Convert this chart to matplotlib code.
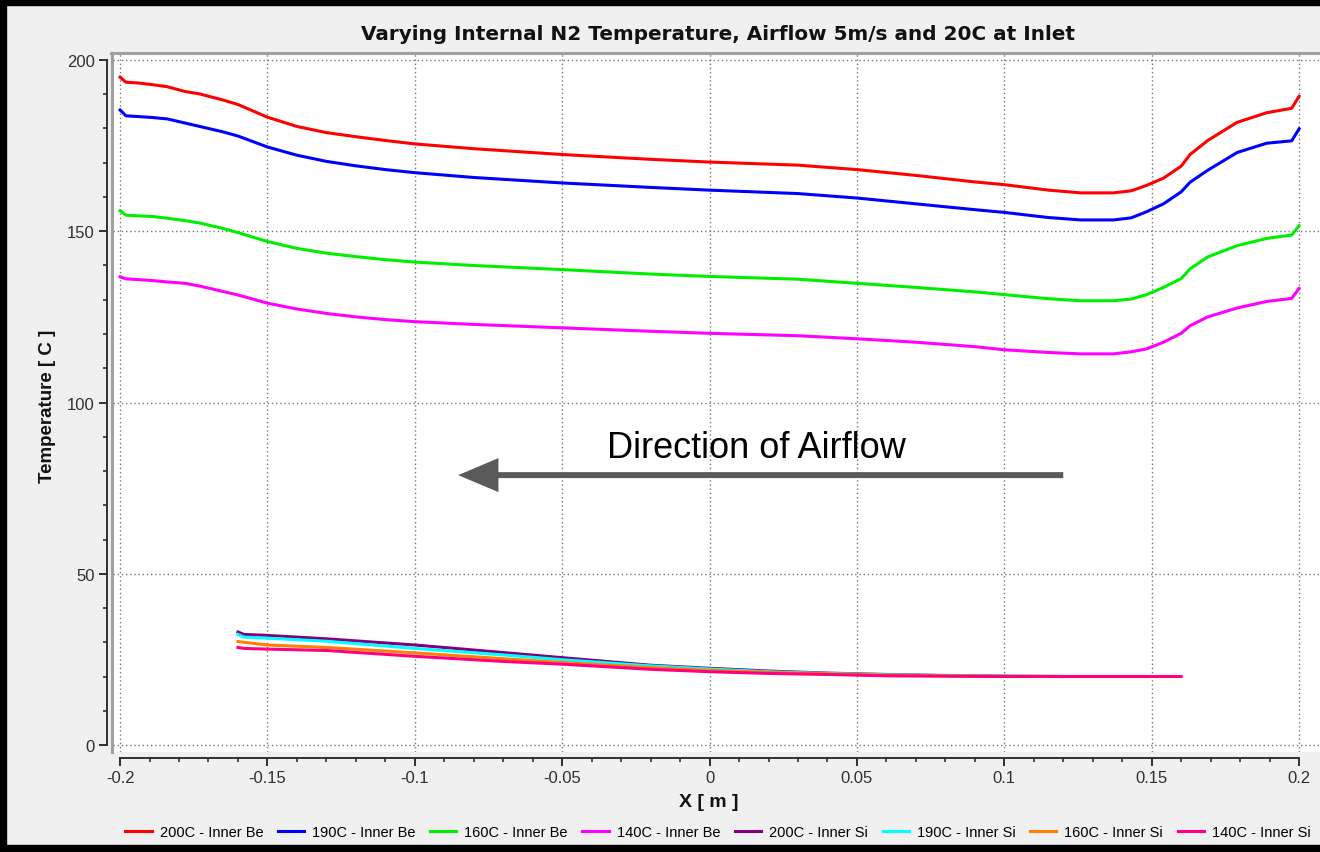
import matplotlib
matplotlib.use("Agg")
import matplotlib.pyplot as plt
from matplotlib.lines import Line2D
from matplotlib.patches import Rectangle
from matplotlib.ticker import MultipleLocator

plt.rcParams['font.family'] = ['Liberation Sans', 'DejaVu Sans']

# ---------------- data ----------------
title = "Varying Internal N2 Temperature, Airflow 5m/s and 20C at Inlet"
xlabel = "X [ m ]"
ylabel = "Temperature [ C ]"
annotation = "Direction of Airflow"

x_be = [-0.2, -0.198, -0.194, -0.189, -0.184, -0.178, -0.173, -0.165, -0.16, -0.15,
        -0.14, -0.13, -0.12, -0.11, -0.10, -0.08, -0.05, -0.02, 0.0, 0.03,
        0.05, 0.07, 0.09, 0.1, 0.115, 0.126, 0.137, 0.143, 0.148, 0.154,
        0.16, 0.163, 0.169, 0.179, 0.189, 0.1975, 0.2]
be_200 = [195.0, 193.5, 193.3, 192.8, 192.2, 190.8, 190.1, 188.3, 187.0, 183.3,
          180.6, 178.8, 177.6, 176.5, 175.5, 174.1, 172.4, 171.0, 170.2, 169.3,
          168.0, 166.3, 164.4, 163.6, 162.0, 161.2, 161.2, 161.8, 163.3, 165.5,
          169.0, 172.4, 176.5, 181.8, 184.6, 185.9, 189.4]
be_190 = [185.4, 183.7, 183.5, 183.2, 182.8, 181.6, 180.6, 179.0, 177.8, 174.6,
          172.2, 170.4, 169.1, 168.0, 167.1, 165.7, 164.1, 162.8, 162.0, 161.0,
          159.7, 158.0, 156.3, 155.5, 154.0, 153.3, 153.3, 153.9, 155.6, 158.0,
          161.5, 164.3, 167.8, 173.0, 175.7, 176.4, 179.9]
be_160 = [156.0, 154.7, 154.5, 154.3, 153.8, 153.1, 152.4, 150.8, 149.6, 147.0,
          145.0, 143.6, 142.6, 141.7, 141.0, 140.0, 138.8, 137.5, 136.8, 136.0,
          134.8, 133.6, 132.3, 131.5, 130.3, 129.7, 129.7, 130.2, 131.4, 133.6,
          136.2, 139.0, 142.5, 145.8, 147.9, 148.9, 151.6]
be_140 = [136.7, 136.1, 135.9, 135.6, 135.2, 134.8, 134.0, 132.4, 131.4, 129.0,
          127.3, 126.0, 125.0, 124.2, 123.6, 122.8, 121.8, 120.8, 120.2, 119.5,
          118.6, 117.6, 116.3, 115.4, 114.6, 114.2, 114.2, 114.8, 115.6, 117.6,
          120.2, 122.4, 125.0, 127.6, 129.5, 130.4, 133.3]

x_si = [-0.16, -0.158, -0.15, -0.13, -0.1, -0.07, -0.05, -0.02, 0.0, 0.02,
        0.04, 0.06, 0.08, 0.1, 0.12]
si_200 = [33.0, 32.3, 32.0, 31.0, 29.2, 27.0, 25.5, 23.3, 22.4, 21.6, 21.0, 20.6, 20.3, 20.1, 20.0]
si_190 = [32.3, 31.5, 31.2, 30.3, 28.2, 26.3, 24.9, 23.1, 22.2, 21.4, 20.9, 20.5, 20.3, 20.1, 20.0]
si_160 = [30.2, 30.0, 29.2, 28.5, 26.9, 25.2, 24.1, 22.6, 21.8, 21.2, 20.8, 20.4, 20.2, 20.05, 20.0]
x_si140 = [-0.16, -0.158, -0.15, -0.13, -0.1, -0.07, -0.05, -0.02, 0.0, 0.02,
           0.04, 0.06, 0.08, 0.1, 0.12, 0.14, 0.16]
si_140 = [28.5, 28.2, 28.0, 27.6, 25.9, 24.4, 23.6, 22.1, 21.4, 20.9, 20.6, 20.2, 20.1, 20.0, 20.0, 20.0, 20.0]

labels = ["200C - Inner Be", "190C - Inner Be", "160C - Inner Be", "140C - Inner Be",
          "200C - Inner Si", "190C - Inner Si", "160C - Inner Si", "140C - Inner Si"]
colors = ["#ff0000", "#0000ff", "#00ee00", "#ff00ff",
          "#800080", "#00ffff", "#ff8000", "#ff0080"]

arrow_start = (0.12, 78.8)
arrow_end = (-0.0853, 78.8)
text_pos = (0.0158, 84.1)

# ---------------- figure ----------------
W, H = 1320, 853
fig = plt.figure(figsize=(W / 100, H / 100), dpi=100, facecolor='#f0f0f0')
ax = fig.add_axes([113 / W, 100 / H, (W - 113) / W, 698 / H])
ax.set_facecolor('white')

series = [(x_be, be_200), (x_be, be_190), (x_be, be_160), (x_be, be_140),
          (x_si, si_200), (x_si, si_190), (x_si, si_160), (x_si140, si_140)]
handles = []
for (xs, ys), c, lab in zip(series, colors, labels):
    h, = ax.plot(xs, ys, color=c, lw=2.2, label=lab, zorder=3)
    handles.append(h)

ax.set_xlim(-0.2024, 0.2071)
ax.set_ylim(-2.04, 201.75)

ax.xaxis.set_minor_locator(MultipleLocator(0.01))
ax.yaxis.set_minor_locator(MultipleLocator(10))
ax.set_xticks([-0.2, -0.15, -0.1, -0.05, 0, 0.05, 0.1, 0.15, 0.2])
ax.set_xticklabels(['-0.2', '-0.15', '-0.1', '-0.05', '0', '0.05', '0.1', '0.15', '0.2'])
ax.set_yticks([0, 50, 100, 150, 200])

ax.grid(True, which='major', linestyle=(0, (1, 2)), color='#777777', linewidth=1.0, zorder=1)

for s in ['top', 'right']:
    ax.spines[s].set_visible(False)
ax.spines['left'].set_position(('outward', 4.3))
ax.spines['bottom'].set_position(('outward', 4.3))
ax.spines['left'].set_bounds(0, 200)
ax.spines['bottom'].set_bounds(-0.2, 0.2)
for s in ['left', 'bottom']:
    ax.spines[s].set_color('#303030')
    ax.spines[s].set_linewidth(1.4)

ax.tick_params(which='major', length=6, width=1.4, color='#303030', labelsize=12,
               labelcolor='#303030', pad=3)
ax.tick_params(which='minor', length=3, width=1.2, color='#303030')

# arrow and annotation
ax.annotate('', xy=arrow_end, xytext=arrow_start,
            arrowprops=dict(width=4.3, headwidth=24.5, headlength=29, shrink=0,
                            facecolor='#5a5a5a', edgecolor='none'), zorder=4)
ax.text(text_pos[0], text_pos[1], annotation, ha='center', va='baseline',
        fontsize=26, color='black', zorder=4)

# frame decorations
fig.add_artist(Line2D([111.5 / W, 111.5 / W], [1 - 54 / H, 1 - 753 / H], transform=fig.transFigure,
                      color='#a0a0a0', lw=2.2))
fig.add_artist(Line2D([111 / W, 1.0], [1 - 54 / H, 1 - 54 / H], transform=fig.transFigure,
                      color='#a0a0a0', lw=2.2))
fig.add_artist(Rectangle((0, 1 - 6 / H), 1, 6 / H, transform=fig.transFigure,
                         color='black', zorder=10))
fig.add_artist(Rectangle((0, 0), 6 / W, 1, transform=fig.transFigure,
                         color='black', zorder=10))
fig.add_artist(Rectangle((0, 0), 1, 7 / H, transform=fig.transFigure,
                         color='black', zorder=10))

fig.text(718 / W, 1 - 35 / H, title, ha='center', va='center', fontsize=14.4,
         fontweight='bold', color='#111111', family=['DejaVu Sans'])
fig.text(48 / W, 1 - 406 / H, ylabel, ha='center', va='center', rotation=90,
         fontsize=13.5, fontweight='bold', color='#111111')
fig.text(709 / W, 1 - 803 / H, xlabel, ha='center', va='center',
         fontsize=14, fontweight='bold', color='#111111')

fig.legend(handles=handles, labels=labels, loc='center',
           bbox_to_anchor=(718 / W, 1 - 833 / H), ncol=8, frameon=False,
           fontsize=10.5, handlelength=1.8, handletextpad=0.55, columnspacing=1.0,
           borderaxespad=0)

fig.savefig('out.png', dpi=100, facecolor=fig.get_facecolor())
